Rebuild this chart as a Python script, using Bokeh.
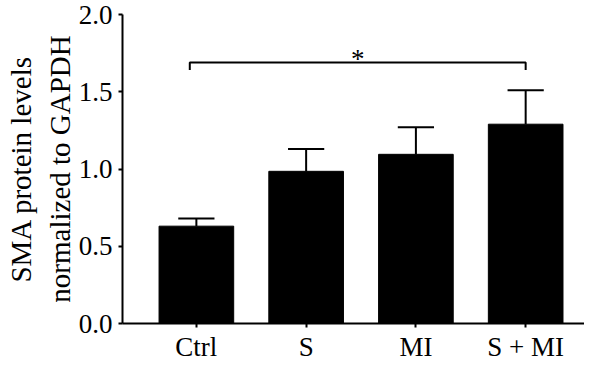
from bokeh.plotting import figure
from bokeh.models import FixedTicker, Range1d, ColumnDataSource
from bokeh.core.properties import value
from bokeh.embed import file_html
from bokeh.resources import INLINE

# ---- data ----
categories = ["Ctrl", "S", "MI", "S + MI"]
means = [0.63, 0.985, 1.095, 1.29]
sems = [0.05, 0.145, 0.175, 0.22]
y_ticks = [0.0, 0.5, 1.0, 1.5, 2.0]
y_tick_labels = ["0.0", "0.5", "1.0", "1.5", "2.0"]
sig_pair = ("Ctrl", "S + MI")
sig_y = 1.69
sig_drop = 0.05
sig_label = "*"

FONT = "Liberation Serif"
FS = "27px"
FS_LABEL = "29px"

xs = list(range(1, len(categories) + 1))
uppers = [m + s for m, s in zip(means, sems)]

p = figure(width=584, height=364, output_backend="svg", toolbar_location=None,
           x_range=Range1d(0.327, 4.536), y_range=Range1d(0, 2.0),
           min_border_left=122, min_border_top=14, min_border_right=0, min_border_bottom=0)
p.outline_line_color = None
p.xgrid.visible = False
p.ygrid.visible = False
p.background_fill_color = "white"

src = ColumnDataSource(dict(x=xs, top=means, up=uppers,
                            cl=[x - 0.165 for x in xs], cr=[x + 0.165 for x in xs]))
p.vbar(x="x", top="top", bottom=0, width=0.68, source=src,
       fill_color="black", line_color="black")
p.segment(x0="x", y0="top", x1="x", y1="up", source=src, line_color="black", line_width=2)
p.segment(x0="cl", y0="up", x1="cr", y1="up", source=src, line_color="black", line_width=2)

# significance bracket
i0 = xs[categories.index(sig_pair[0])] - 0.06
i1 = xs[categories.index(sig_pair[1])]
p.line(x=[i0, i0, i1, i1], y=[sig_y - sig_drop, sig_y, sig_y, sig_y - sig_drop],
       line_color="black", line_width=2)
p.text(x=[(i0 + i1) / 2], y=[sig_y + 0.025], text=[sig_label], text_font=value(FONT),
       text_font_size=FS, text_align="center", text_baseline="alphabetic", text_color="black")

# axes
p.xaxis.ticker = FixedTicker(ticks=xs)
p.xaxis.major_label_overrides = {x: c for x, c in zip(xs, categories)}
p.yaxis.ticker = FixedTicker(ticks=y_ticks)
p.yaxis.major_label_overrides = {t: l for t, l in zip(y_ticks, y_tick_labels)}
for ax in (p.xaxis, p.yaxis):
    ax.axis_line_width = 2
    ax.axis_line_color = "black"
    ax.major_tick_line_width = 2
    ax.major_tick_line_color = "black"
    ax.major_tick_in = 0
    ax.major_tick_out = 4
    ax.minor_tick_line_color = None
    ax.major_label_text_font = FONT
    ax.major_label_text_font_size = FS
    ax.major_label_text_color = "black"
p.xaxis.major_label_standoff = 4
p.yaxis.major_label_standoff = 6
p.yaxis.axis_label = "SMA protein levels\nnormalized to GAPDH"
p.yaxis.axis_label_text_font = FONT
p.yaxis.axis_label_text_font_size = FS_LABEL
p.yaxis.axis_label_text_font_style = "normal"
p.yaxis.axis_label_text_color = "black"
p.yaxis.axis_label_standoff = 0

open("out.html", "w").write(file_html(p, INLINE))
